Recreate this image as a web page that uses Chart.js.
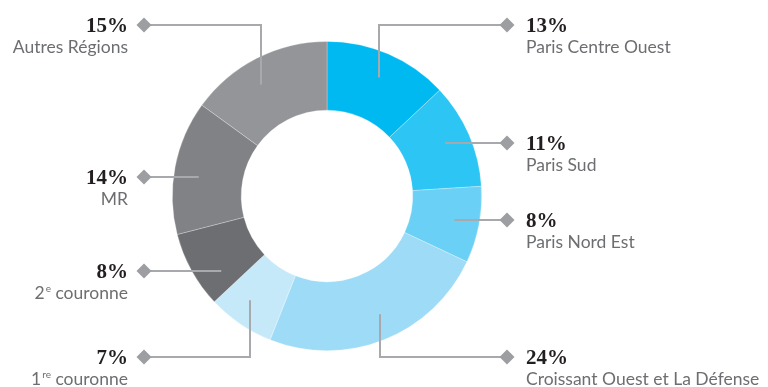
<!DOCTYPE html>
<html>
<head>
<meta charset="utf-8">
<script src="https://cdn.jsdelivr.net/npm/chart.js@4/dist/chart.umd.min.js"></script>
<style>
  html, body { margin: 0; padding: 0; background: #fff; overflow: hidden; }
  #wrap { width: 768px; height: 387px; position: relative; }
</style>
</head>
<body>
<div id="wrap"><canvas id="c"></canvas></div>
<script>
// Office take-up by sector (share of total, %)
const categories = [
  'Paris Centre Ouest',
  'Paris Sud',
  'Paris Nord Est',
  'Croissant Ouest et La Défense',
  '1re couronne',
  '2e couronne',
  'MR',
  'Autres Régions'
];
const shares = [13, 11, 8, 24, 7, 8, 14, 15];
const sliceColors = ['#00b9f1', '#2dc5f4', '#6bd0f5', '#9ddbf7', '#c6e9f9', '#6d6e71', '#808285', '#939598'];

// Callout placement for each slice: page side, diamond row, leader shape,
// and where along the slice an elbow leader starts (fraction of its sweep)
const callouts = [
  { side: 'right', row: 25,  shape: 'elbow', at: 0.51 },
  { side: 'right', row: 143, shape: 'straight' },
  { side: 'right', row: 220, shape: 'straight' },
  { side: 'right', row: 357, shape: 'elbow', at: 0.47 },
  { side: 'left',  row: 357, shape: 'elbow', at: 0.59 },
  { side: 'left',  row: 271, shape: 'straight' },
  { side: 'left',  row: 177, shape: 'straight' },
  { side: 'left',  row: 25,  shape: 'elbow', at: 0.43 }
];

const STYLE = {
  leader: '#a7a9ac',
  diamond: '#9d9ea1',
  pct: '#231f20',
  label: '#6d6e71',
  pctFont: 'bold 21px "Liberation Serif", "DejaVu Serif", serif',
  labelFont: '17.5px Lato, "Open Sans", sans-serif',
  supFont: '10px Lato, "Open Sans", sans-serif',
  rightDiamondX: 507,
  leftDiamondX: 144,
  anchorInset: 25
};

// split "2e couronne" style names into runs with a raised ordinal suffix
function labelRuns(name) {
  const m = name.match(/^(\d+)(re|e)(\s.*)$/);
  if (!m) return [{ t: name }];
  return [{ t: m[1] }, { t: m[2], sup: true }, { t: m[3] }];
}

function drawRuns(ctx, runs, x, y, align) {
  const widths = runs.map(r => {
    ctx.font = r.sup ? STYLE.supFont : STYLE.labelFont;
    return ctx.measureText(r.t).width + (r.sup ? 1 : 0);
  });
  const total = widths.reduce((a, b) => a + b, 0);
  let cx = align === 'right' ? x - total : x;
  ctx.textAlign = 'left';
  ctx.textBaseline = 'alphabetic';
  runs.forEach((r, i) => {
    ctx.font = r.sup ? STYLE.supFont : STYLE.labelFont;
    ctx.fillText(r.t, cx + (r.sup ? 1 : 0), r.sup ? y - 7 : y);
    cx += widths[i];
  });
}

const calloutPlugin = {
  id: 'callouts',
  afterDatasetsDraw(chart) {
    const ctx = chart.ctx;
    const meta = chart.getDatasetMeta(0);
    ctx.save();
    meta.data.forEach((arc, i) => {
      const p = arc.getProps(['x', 'y', 'startAngle', 'endAngle', 'outerRadius'], true);
      const c = callouts[i];
      const dir = c.side === 'right' ? 1 : -1;
      const r = p.outerRadius - STYLE.anchorInset;
      const dX = c.side === 'right' ? STYLE.rightDiamondX : STYLE.leftDiamondX;
      let pts;
      if (c.shape === 'straight') {
        const dy = c.row - p.y;
        const ax = p.x + dir * Math.sqrt(Math.max(r * r - dy * dy, 0));
        pts = [[ax, c.row], [dX, c.row]];
      } else {
        const ang = p.startAngle + (p.endAngle - p.startAngle) * c.at;
        const ax = Math.round(p.x + r * Math.cos(ang));
        const ay = p.y + r * Math.sin(ang);
        pts = [[ax, ay], [ax, c.row], [dX, c.row]];
      }
      // leader line
      ctx.strokeStyle = STYLE.leader;
      ctx.lineWidth = 2;
      ctx.lineJoin = 'miter';
      ctx.beginPath();
      ctx.moveTo(pts[0][0], pts[0][1]);
      for (let k = 1; k < pts.length; k++) ctx.lineTo(pts[k][0], pts[k][1]);
      ctx.stroke();
      // diamond marker
      const h = 7.5;
      ctx.fillStyle = STYLE.diamond;
      ctx.beginPath();
      ctx.moveTo(dX, c.row - h);
      ctx.lineTo(dX + h, c.row);
      ctx.lineTo(dX, c.row + h);
      ctx.lineTo(dX - h, c.row);
      ctx.closePath();
      ctx.fill();
      // value and name
      const tx = c.side === 'right' ? dX + 19 : dX - 16;
      const align = c.side === 'right' ? 'left' : 'right';
      ctx.font = STYLE.pctFont;
      ctx.fillStyle = STYLE.pct;
      ctx.textAlign = align;
      ctx.textBaseline = 'alphabetic';
      ctx.fillText(shares[i] + '%', tx, c.row + 7);
      ctx.fillStyle = STYLE.label;
      drawRuns(ctx, labelRuns(categories[i]), tx, c.row + 28, align);
    });
    ctx.restore();
  }
};

new Chart(document.getElementById('c'), {
  type: 'doughnut',
  data: {
    labels: categories,
    datasets: [{
      data: shares,
      backgroundColor: sliceColors,
      borderColor: 'rgba(255,255,255,0.35)',
      borderWidth: 0.75,
      hoverOffset: 0
    }]
  },
  options: {
    responsive: true,
    maintainAspectRatio: false,
    animation: false,
    cutout: '55.5%',
    layout: { padding: { left: 172, right: 286, top: 41, bottom: 36 } },
    plugins: {
      legend: { display: false },
      tooltip: { enabled: false }
    }
  },
  plugins: [calloutPlugin]
});
</script>
</body>
</html>
